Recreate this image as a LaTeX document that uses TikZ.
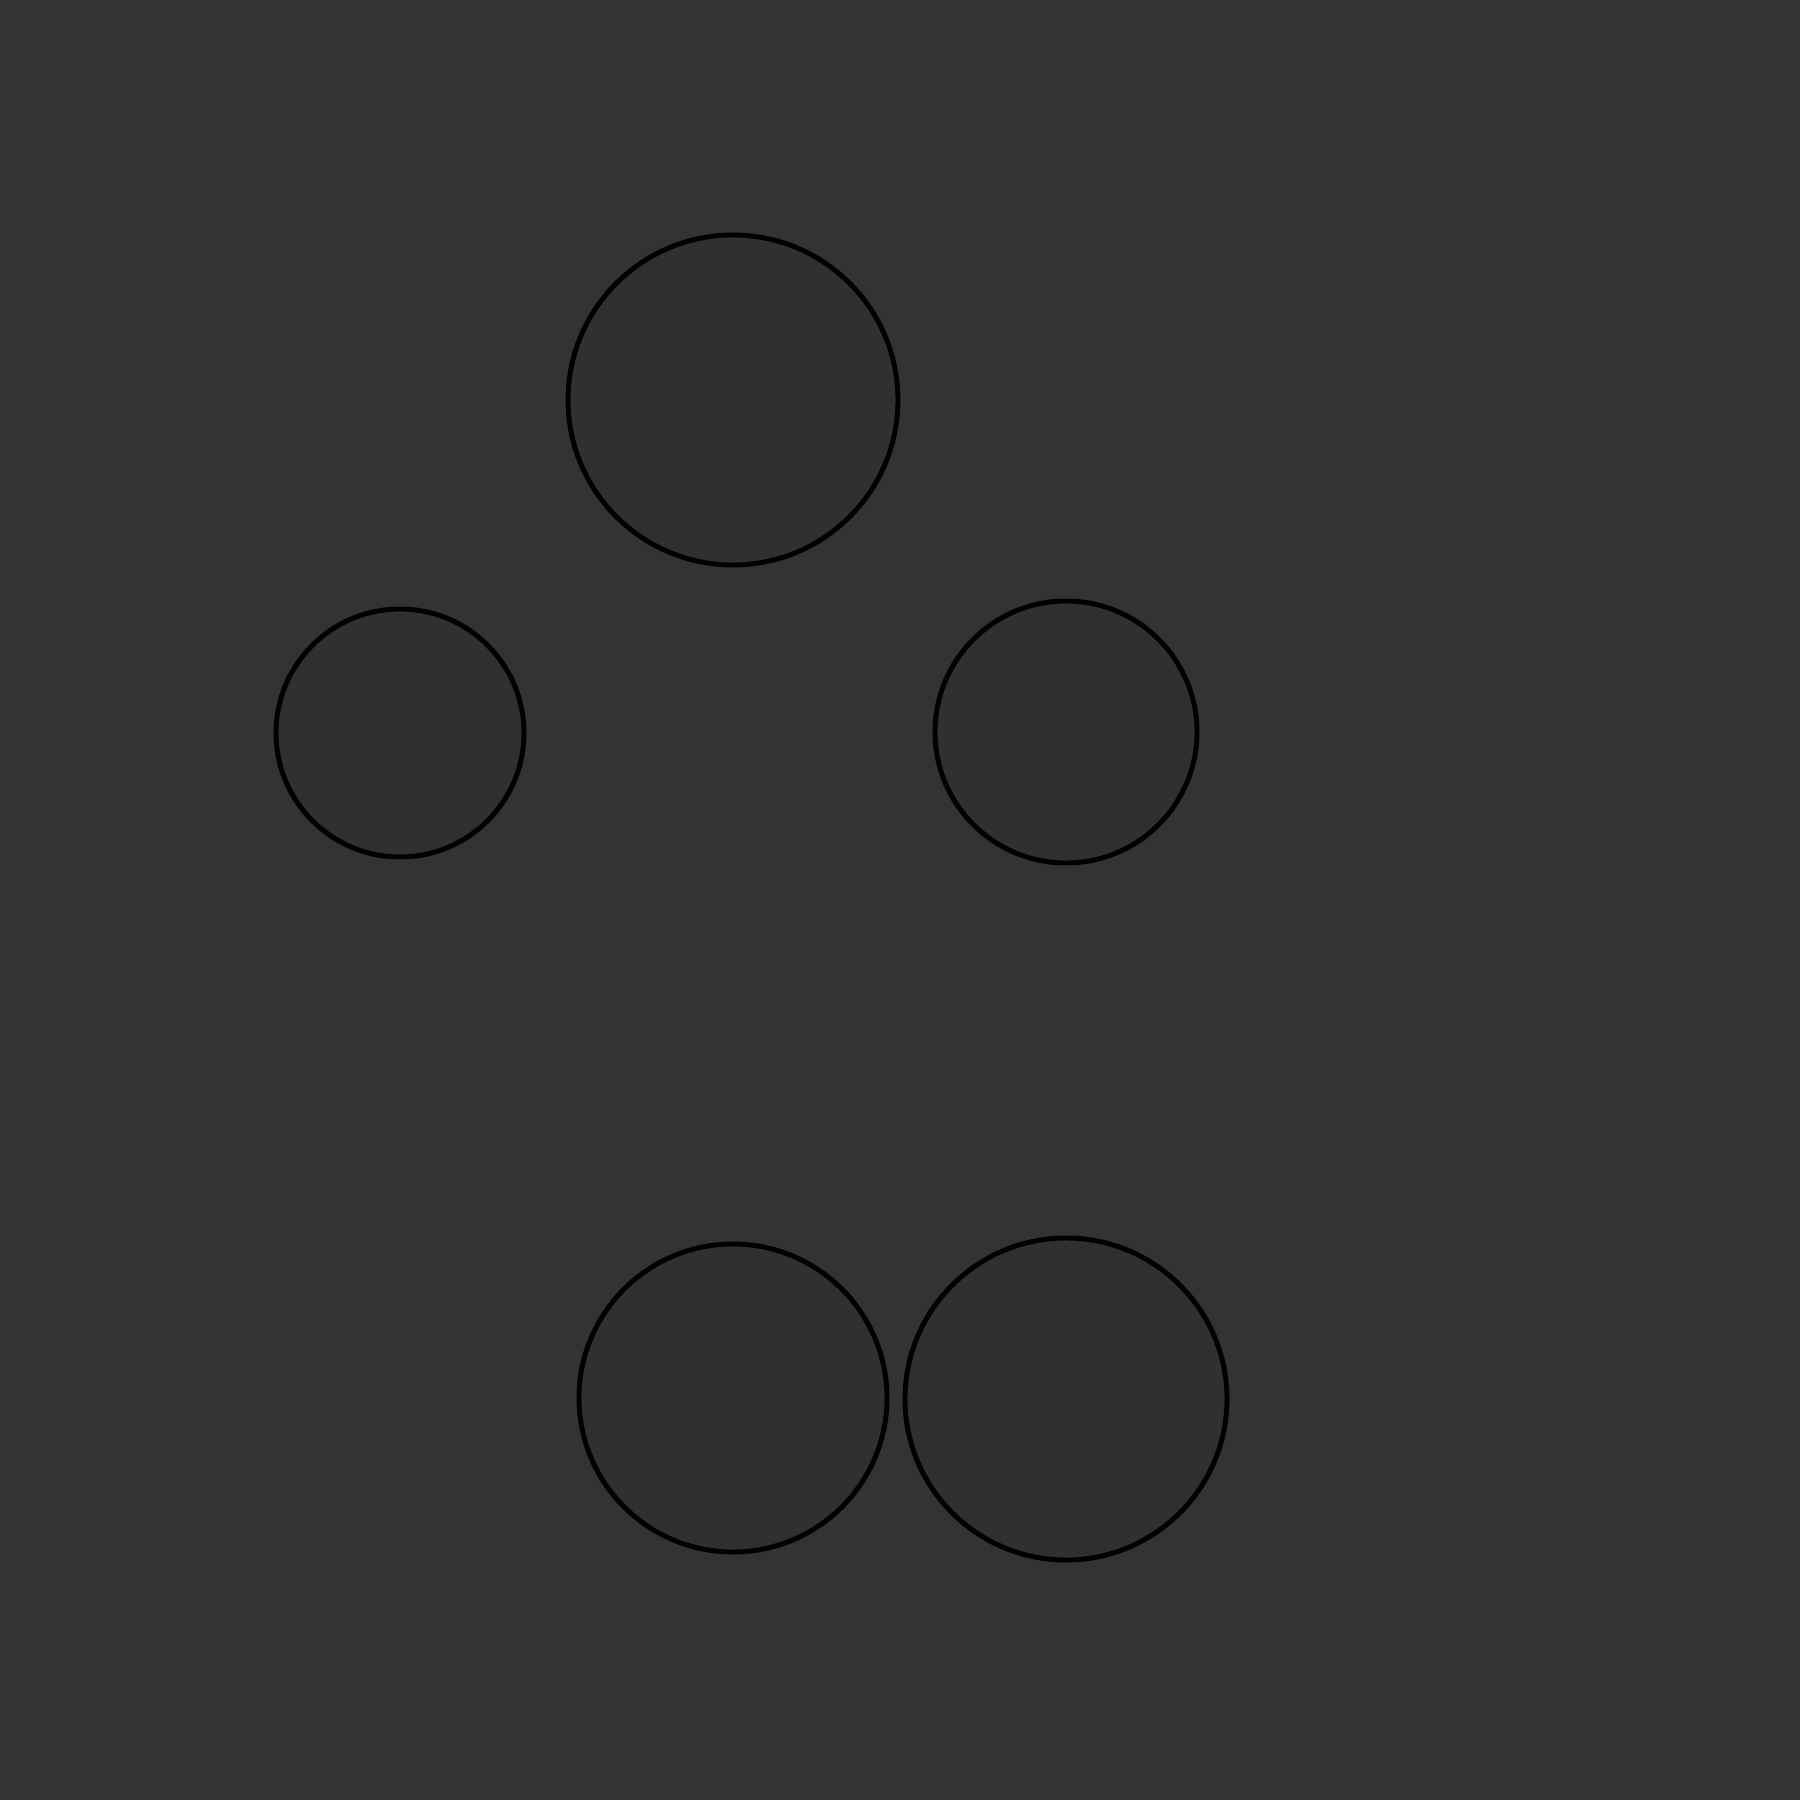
\documentclass[tikz,border=0pt]{standalone}
\usepackage{tikz}
\definecolor{bgcol}{HTML}{333333}
\definecolor{ringfill}{HTML}{303030}
\begin{document}
\begin{tikzpicture}[every node/.style={draw=black, circle, fill=ringfill, line width=1.4pt, inner sep=0pt}]
  % background
  \fill[bgcol] (0,0) rectangle (18,18);
  \useasboundingbox (0,0) rectangle (18,18);

  % upper row
  \node (top) at (7.33, 14.00)[minimum size=3.30cm] {};
  \node (left) at (4.00, 10.67)[minimum size=2.48cm] {};
  \node (right) at (10.66, 10.68)[minimum size=2.62cm] {};

  % lower pair
  \node (botL) at (7.33, 4.02)[minimum size=3.08cm] {};
  \node (botR) at (10.66, 4.01)[minimum size=3.22cm] {};
\end{tikzpicture}
\end{document}
